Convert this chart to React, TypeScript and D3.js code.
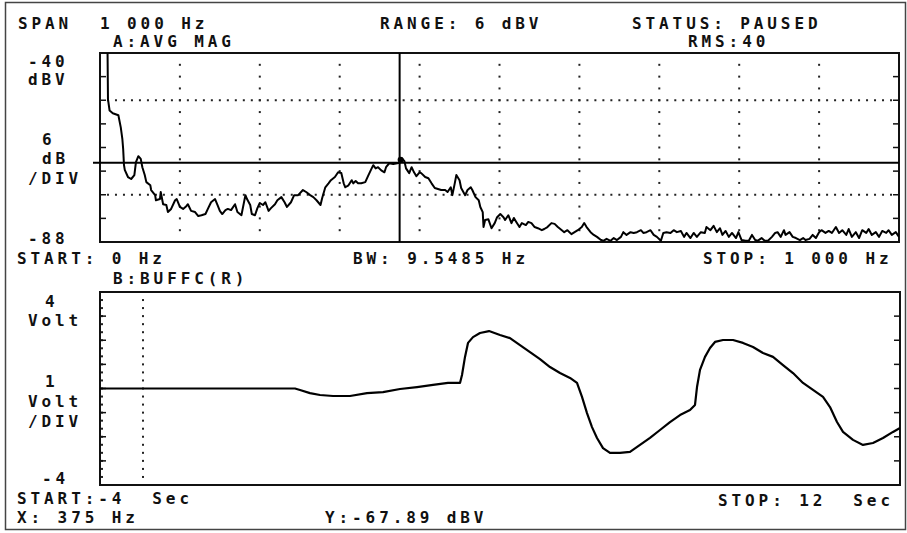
import React from 'react'
import * as d3 from 'd3'

// trace A: averaged magnitude spectrum, [Hz, dBV]
const spectrum: [number, number][] = [
  [0, -30], [9, -30], [10, -51.8], [12, -54.6], [16, -55.3], [23, -55.8], [26, -58.9], [28, -61.9], [29, -64.4], [30, -68.4],
  [31, -69.7], [35, -71.5], [39, -72.0], [43, -71.0], [45, -67.7], [48, -66.2], [51, -66.9], [53, -69.0], [56, -71.0], [58, -72.8],
  [63, -73.6], [64, -74.8], [69, -76.1], [70, -77.4], [75, -77.1], [76, -75.3], [79, -78.4], [83, -78.6], [85, -80.4], [89, -79.6],
  [94, -77.4], [96, -77.1], [100, -79.1], [104, -79.6], [108, -78.9], [110, -78.4], [114, -80.1], [119, -80.4], [123, -81.4], [127, -81.2],
  [132, -80.9], [135, -79.6], [139, -77.9], [144, -77.1], [147, -78.6], [150, -80.1], [153, -80.9], [157, -79.9], [160, -79.6], [164, -79.9],
  [169, -78.4], [172, -80.4], [177, -81.2], [182, -76.1], [184, -77.1], [188, -78.6], [190, -80.9], [194, -81.2], [197, -79.4], [200, -78.1],
  [204, -78.6], [207, -77.9], [211, -80.1], [214, -79.4], [219, -78.4], [222, -77.4], [227, -76.6], [231, -77.9], [234, -79.1], [239, -77.9],
  [243, -76.1], [248, -76.1], [254, -74.8], [258, -75.3], [263, -76.1], [267, -76.6], [271, -77.4], [276, -78.6], [278, -76.9], [282, -74.1],
  [286, -73.1], [289, -72.3], [294, -71.5], [298, -70.3], [302, -70.5], [305, -73.1], [307, -74.1], [311, -73.6], [315, -72.3], [317, -73.1],
  [320, -72.5], [323, -73.1], [327, -73.1], [332, -72.8], [336, -71.0], [340, -69.3], [342, -68.5], [345, -69.3], [348, -69.0], [352, -69.8],
  [356, -70.3], [358, -69.0], [362, -68.0], [367, -68.2], [372, -68.0], [375, -67.9], [378, -66.8], [381, -67.5], [383, -69.3], [387, -70.5],
  [390, -69.0], [393, -70.3], [396, -71.3], [400, -70.3], [402, -70.5], [407, -71.5], [411, -71.8], [415, -73.1], [419, -74.3], [424, -74.6],
  [427, -74.8], [432, -74.8], [435, -75.3], [439, -74.1], [441, -76.1], [444, -73.1], [446, -71.0], [450, -72.3], [452, -74.3], [457, -76.1],
  [460, -74.8], [464, -74.1], [466, -74.8], [470, -76.6], [474, -77.4], [476, -79.1], [479, -80.4], [480, -84.2], [482, -82.4], [486, -82.2],
  [490, -84.5], [494, -83.2], [497, -81.7], [501, -80.9], [505, -81.7], [507, -82.4], [511, -81.2], [515, -83.2], [518, -81.9], [521, -82.9],
  [525, -84.2], [528, -83.2], [533, -83.7], [536, -82.9], [540, -83.2], [544, -84.2], [548, -84.5], [553, -85.0], [556, -84.7], [560, -84.2],
  [565, -83.2], [569, -83.4], [573, -84.2], [578, -85.0], [581, -85.5], [585, -85.0], [590, -86.0], [594, -85.5], [598, -85.0], [603, -84.2],
  [606, -83.2], [609, -84.2], [614, -85.5], [618, -86.2], [622, -86.7], [627, -87.5], [630, -87.7], [634, -87.2], [639, -87.7], [643, -87.0],
  [647, -87.5], [652, -86.7], [655, -85.5], [659, -86.2], [664, -85.5], [668, -85.7], [672, -85.5], [677, -85.0], [680, -85.7], [684, -85.5],
  [689, -85.0], [693, -86.2], [697, -86.7], [702, -87.7], [705, -85.7], [709, -85.5], [714, -85.7], [718, -85.0], [722, -85.5], [727, -85.2],
  [731, -86.7], [734, -85.7], [739, -87.0], [743, -85.7], [747, -86.7], [752, -85.5], [757, -85.7], [759, -84.2], [764, -85.0], [768, -83.9],
  [772, -85.5], [776, -84.5], [779, -86.2], [783, -85.2], [787, -86.7], [791, -85.7], [796, -87.0], [799, -85.5], [803, -87.5], [808, -87.7],
  [812, -87.7], [816, -86.2], [820, -87.5], [823, -87.7], [828, -87.0], [832, -87.7], [836, -87.7], [841, -86.7], [845, -85.7], [848, -85.5],
  [852, -86.7], [856, -85.0], [858, -86.2], [863, -85.5], [867, -86.7], [871, -87.0], [876, -87.5], [880, -87.0], [883, -87.5], [888, -87.2],
  [892, -86.2], [896, -87.0], [900, -85.5], [903, -85.0], [908, -85.7], [912, -85.2], [916, -85.7], [921, -84.2], [925, -85.7], [929, -85.0],
  [934, -86.2], [937, -84.7], [941, -86.7], [946, -85.5], [950, -87.0], [954, -85.0], [959, -85.7], [962, -84.7], [966, -86.2], [971, -85.5],
  [975, -86.7], [979, -85.2], [984, -85.7], [987, -85.0], [991, -86.2], [996, -85.5], [1000, -86.7],
]

// trace B: time record, [sec, volt]
const timeRecord: [number, number][] = [
  [-4, 0], [-0.1, 0], [0, -0.06], [0.2, -0.19], [0.4, -0.27], [0.66, -0.31], [1.0, -0.31], [1.34, -0.19], [1.66, -0.15], [2.0, -0.02],
  [2.34, 0.06], [2.66, 0.15], [2.96, 0.23], [3.2, 0.23], [3.24, 0.56], [3.3, 1.31], [3.36, 1.89], [3.46, 2.13], [3.6, 2.3], [3.78, 2.38],
  [4.0, 2.22], [4.2, 2.09], [4.4, 1.8], [4.6, 1.51], [4.8, 1.22], [5.0, 0.89], [5.2, 0.64], [5.4, 0.44], [5.54, 0.23], [5.64, -0.35],
  [5.74, -1.02], [5.84, -1.6], [5.94, -2.05], [6.06, -2.47], [6.2, -2.67], [6.4, -2.67], [6.6, -2.63], [6.8, -2.34], [7.0, -2.05], [7.2, -1.72],
  [7.4, -1.39], [7.6, -1.1], [7.8, -0.89], [7.9, -0.68], [7.94, 0.06], [8.0, 0.77], [8.1, 1.31], [8.2, 1.68], [8.3, 1.93], [8.46, 2.01],
  [8.66, 2.01], [8.86, 1.89], [9.06, 1.72], [9.26, 1.47], [9.46, 1.31], [9.66, 0.97], [9.86, 0.64], [10.06, 0.23], [10.26, -0.06], [10.46, -0.35],
  [10.6, -0.77], [10.74, -1.39], [10.86, -1.8], [11.06, -2.13], [11.26, -2.34], [11.46, -2.26], [11.66, -2.05], [11.86, -1.8], [12.0, -1.64],
]

const freqDomain = [0, 1000]
const dbvDomain = [-88, -40]
const timeDomain = [-4, 12]
const voltDomain = [-4, 4]
const cursorHz = 375
const cursorDbv = -67.89
const markerSec = -3.14

const font: React.CSSProperties = {
  fontFamily: "'DejaVu Sans Mono', monospace",
  fontSize: 16,
  fontWeight: 'bold',
  letterSpacing: 3.9,
  whiteSpace: 'pre',
}

function T({ x, y, children }: { x: number; y: number; children: string }) {
  return (
    <text x={x} y={y} style={font} fill="#111">
      {children}
    </text>
  )
}

export default function App() {
  const W = 907
  const H = 533

  // top panel
  const xF = d3.scaleLinear().domain(freqDomain).range([100, 899])
  const yA = d3.scaleLinear().domain(dbvDomain).range([242, 53])
  // bottom panel
  const xT = d3.scaleLinear().domain(timeDomain).range([100, 900])
  const yB = d3.scaleLinear().domain(voltDomain).range([485, 292])

  const specLine = d3
    .line<[number, number]>()
    .x((d) => xF(d[0]))
    .y((d) => yA(d[1]))
  const timeLine = d3
    .line<[number, number]>()
    .x((d) => xT(d[0]))
    .y((d) => yB(d[1]))

  const freqGrid = d3.range(100, 1000, 100)
  const halfDivDb = d3.range(-85, -40, 3)
  const dottedDb = [-52, -76]
  const dbTicks = d3.range(-82, -40, 6)
  const dotFreqs = d3.range(0, 1001, 10)
  const voltTicks = d3.range(-3, 4, 1)
  const voltDots = d3.range(-4, 4, 1 / 3)

  return (
    <div style={{ position: 'absolute', left: 0, top: 0 }}>
      <svg width={W} height={H} style={{ display: 'block', background: '#fff' }}>
        <defs>
          <clipPath id="clipA">
            <rect x={100} y={53} width={799} height={189} />
          </clipPath>
          <clipPath id="clipB">
            <rect x={100} y={292} width={800} height={193} />
          </clipPath>
        </defs>

        {/* outer frame */}
        <rect x={5.5} y={2.5} width={900} height={527} fill="none" stroke="#444" strokeWidth={1.5} />

        {/* header */}
        <T x={18} y={29}>SPAN</T>
        <T x={100} y={29}>1 000 Hz</T>
        <T x={380} y={29}>RANGE: 6 dBV</T>
        <T x={632} y={29}>STATUS: PAUSED</T>
        <T x={113} y={47}>A:AVG MAG</T>
        <T x={688} y={47}>RMS:40</T>

        {/* top panel grid */}
        {freqGrid.map((f) =>
          halfDivDb.map((db) => (
            <rect key={`v${f}_${db}`} x={xF(f) - 1} y={yA(db) - 1} width={2} height={2} fill="#222" />
          )),
        )}
        {dottedDb.map((db) =>
          dotFreqs.map((f) => (
            <rect key={`h${db}_${f}`} x={xF(f) - 1} y={yA(db) - 1} width={2} height={2} fill="#222" />
          )),
        )}
        {dbTicks.map((db) => (
          <g key={`t${db}`}>
            <line x1={100} x2={106} y1={yA(db)} y2={yA(db)} stroke="#111" strokeWidth={1.5} />
            <line x1={893} x2={899} y1={yA(db)} y2={yA(db)} stroke="#111" strokeWidth={1.5} />
          </g>
        ))}
        <rect x={100} y={53} width={799} height={189} fill="none" stroke="#111" strokeWidth={2} />

        <path d={specLine(spectrum) || ''} clipPath="url(#clipA)" fill="none" stroke="#000" strokeWidth={2} strokeLinejoin="round" />

        {/* cursors */}
        <line x1={93} x2={899} y1={yA(cursorDbv)} y2={yA(cursorDbv)} stroke="#000" strokeWidth={2} />
        <line x1={xF(cursorHz)} x2={xF(cursorHz)} y1={53} y2={242} stroke="#000" strokeWidth={2} />
        <circle cx={xF(cursorHz) + 1} cy={yA(cursorDbv) - 3} r={3} fill="#000" />

        {/* top panel labels */}
        <T x={28} y={67}>-40</T>
        <T x={28} y={85}>dBV</T>
        <T x={42} y={145}>6</T>
        <T x={42} y={164}>dB</T>
        <T x={28} y={184}>/DIV</T>
        <T x={28} y={244}>-88</T>
        <T x={17} y={264}>START: 0 Hz</T>
        <T x={353} y={264}>BW: 9.5485 Hz</T>
        <T x={703} y={264}>STOP: 1 000 Hz</T>
        <T x={113} y={284}>B:BUFFC(R)</T>

        {/* bottom panel */}
        {voltDots.map((v) => (
          <g key={`d${v}`}>
            <rect x={xT(markerSec) - 1} y={yB(v) - 1} width={2} height={2} fill="#222" />
            <rect x={101} y={yB(v) - 1} width={2} height={2} fill="#222" />
          </g>
        ))}
        {voltTicks.map((v) => (
          <g key={`vt${v}`}>
            <line x1={100} x2={106} y1={yB(v)} y2={yB(v)} stroke="#111" strokeWidth={1.5} />
            <line x1={894} x2={900} y1={yB(v)} y2={yB(v)} stroke="#111" strokeWidth={1.5} />
          </g>
        ))}
        <rect x={100} y={292} width={800} height={193} fill="none" stroke="#111" strokeWidth={2} />
        <path d={timeLine(timeRecord) || ''} clipPath="url(#clipB)" fill="none" stroke="#000" strokeWidth={2.2} strokeLinejoin="round" />

        <T x={45} y={307}>4</T>
        <T x={28} y={326}>Volt</T>
        <T x={45} y={387}>1</T>
        <T x={28} y={407}>Volt</T>
        <T x={28} y={427}>/DIV</T>
        <T x={42} y={484}>-4</T>
        <T x={17} y={504}>START:-4  Sec</T>
        <T x={718} y={506}>STOP: 12  Sec</T>
        <T x={17} y={523}>X: 375 Hz</T>
        <T x={325} y={523}>Y:-67.89 dBV</T>
      </svg>
    </div>
  )
}
